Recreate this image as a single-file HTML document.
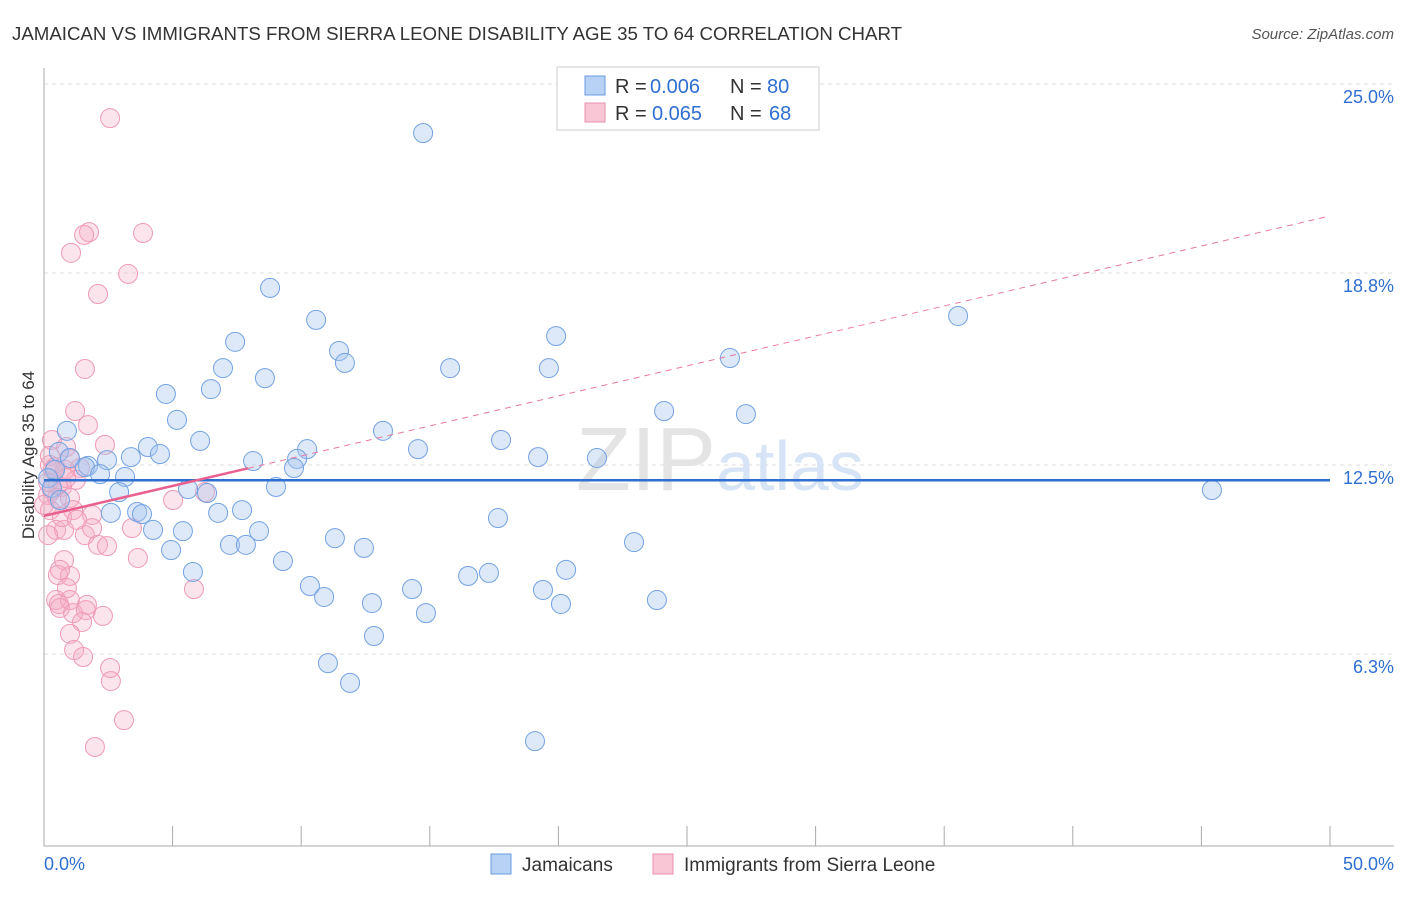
<!DOCTYPE html>
<html><head><meta charset="utf-8"><style>
body{margin:0;background:#fff;font-family:"Liberation Sans",sans-serif}
svg text{font-family:"Liberation Sans",sans-serif}
</style></head><body>
<svg width="1406" height="892">
<text x="12" y="40" font-size="18" fill="#333" textLength="890" lengthAdjust="spacingAndGlyphs">JAMAICAN VS IMMIGRANTS FROM SIERRA LEONE DISABILITY AGE 35 TO 64 CORRELATION CHART</text>
<text x="1394" y="39" font-size="15" fill="#555" font-style="italic" text-anchor="end">Source: ZipAtlas.com</text>
<g id="grid"></g>
<text x="720" y="490" font-size="90" fill="#e4e4e4" text-anchor="middle" font-family="Liberation Serif">ZIP<tspan fill="#d6e4f5" font-family="Liberation Sans" font-size="70">atlas</tspan></text>
<g id="axes"></g>
<g id="pts"></g>
<g id="lines"></g>
<text x="34" y="455" font-size="17" fill="#333" text-anchor="middle" transform="rotate(-90 34 455)">Disability Age 35 to 64</text>
<g>
<rect x="557" y="67" width="262" height="63" fill="#fff" stroke="#ccc"/>
<rect x="585" y="76" width="20" height="19" fill="#b7d2f5" stroke="#6a9be0"/>
<rect x="585" y="103" width="20" height="19" fill="#f9c6d6" stroke="#e890ae"/>
<g font-size="20" fill="#333">
<text x="615" y="93">R =</text><text x="650" y="93" fill="#2f6fd0">0.006</text><text x="730" y="93">N =</text><text x="767" y="93" fill="#2f6fd0">80</text></g>
<g font-size="20" fill="#333">
<text x="615" y="120">R =</text><text x="652" y="120" fill="#2f6fd0">0.065</text><text x="730" y="120">N =</text><text x="769" y="120" fill="#2f6fd0">68</text></g>
</g>
<g>
<rect x="491" y="854" width="20" height="20" fill="#b7d2f5" stroke="#6a9be0"/>
<text x="522" y="871" font-size="19" fill="#333">Jamaicans</text>
<rect x="653" y="854" width="20" height="20" fill="#f9c6d6" stroke="#e890ae"/>
<text x="684" y="871" font-size="19" fill="#333">Immigrants from Sierra Leone</text>
</g>
</svg>
<script>
const yTicks=[25.0,18.8,12.5,6.3];
const yTickLabels=["25.0%","18.8%","12.5%","6.3%"];
const xTickLabels=["0.0%","50.0%"];
const blueX=[14.74,8.79,10.58,35.54,19.91,7.43,11.47,11.70,6.96,15.79,19.63,26.67,8.59,4.74,6.49,24.11,27.29,5.17,13.18,17.77,0.89,6.07,4.04,10.23,14.54,4.51,3.38,9.84,8.13,19.21,21.50,9.72,1.71,2.45,1.59,2.18,3.15,0.58,0.43,9.02,2.92,5.60,6.34,45.41,7.70,6.77,2.60,3.62,3.81,17.65,4.24,5.40,8.36,11.31,22.94,7.23,7.85,4.94,12.44,9.29,5.79,20.30,16.49,17.30,10.34,14.31,19.40,10.89,12.75,20.10,23.83,14.85,12.83,11.04,11.90,19.09,0.16,0.31,0.62,1.01];
const blueY=[23.39,18.31,17.26,17.39,16.73,16.54,16.24,15.85,15.68,15.68,15.68,16.01,15.35,14.83,14.99,14.27,14.17,13.98,13.62,13.32,13.62,13.29,13.09,13.02,13.02,12.86,12.76,12.70,12.63,12.76,12.73,12.40,12.47,12.66,12.43,12.20,12.11,12.93,12.34,11.78,11.61,11.71,11.58,11.68,11.02,10.93,10.93,10.96,10.89,10.76,10.37,10.33,10.33,10.10,9.97,9.88,9.88,9.71,9.78,9.35,8.99,9.06,8.86,8.96,8.53,8.43,8.40,8.17,7.97,7.94,8.07,7.64,6.89,6.00,5.35,3.44,12.07,11.75,11.35,12.73];
const pinkX=[2.57,1.75,3.85,1.56,1.05,3.27,2.10,1.59,1.21,1.71,2.37,0.31,0.86,1.01,1.40,1.24,0.70,0.31,0.16,0.51,1.01,0.54,0.16,0.23,1.13,1.87,3.42,0.47,0.78,1.59,2.10,2.45,3.65,0.78,0.54,1.01,0.89,0.47,0.58,1.01,0.62,1.67,1.13,1.63,2.29,1.48,1.01,1.17,1.52,2.57,2.60,3.11,1.98,5.83,5.02,6.26,0.23,0.43,0.00,0.35,0.82,0.70,0.16,0.23,1.28,0.86,1.87,0.62];
const pinkY=[23.88,20.14,20.11,20.05,19.46,18.77,18.11,15.65,14.27,13.81,13.16,13.32,13.09,12.70,12.40,12.01,11.78,11.68,11.52,11.42,11.42,11.84,11.94,11.02,11.02,10.86,10.43,10.37,10.37,10.20,9.88,9.84,9.45,9.38,8.89,8.86,8.46,8.07,7.94,8.07,7.81,7.91,7.64,7.74,7.55,7.35,6.96,6.43,6.20,5.84,5.41,4.13,3.25,8.43,11.35,11.61,12.80,12.43,11.19,12.34,12.34,10.79,10.20,12.50,10.70,12.07,10.43,9.06];
const blueFit=[12.0,12.0];
const pinkFit=[10.83,20.67];
const pinkSolidEnd=7.93;
const NS="http://www.w3.org/2000/svg";
const sx=v=>44+v/50*1286;
const sy=v=>846-v*30.48;
function mk(tag,attrs,parent){const e=document.createElementNS(NS,tag);for(const k in attrs)e.setAttribute(k,attrs[k]);parent.appendChild(e);return e;}
const grid=document.getElementById('grid'),axes=document.getElementById('axes'),pts=document.getElementById('pts'),lines=document.getElementById('lines');
yTicks.forEach((t,i)=>{
 const l=mk('line',{x1:44,x2:1394,y1:sy(t),y2:sy(t),stroke:'#ddd','stroke-dasharray':'4,4'},grid);
 
 
 const tx=mk('text',{x:1394,y:sy(t)+19,'font-size':18,fill:'#2f6fd0','text-anchor':'end'},axes);
 tx.textContent=yTickLabels[i];
 
 
});
const ax=mk('path',{d:'M44 68 V846 H1394',fill:'none',stroke:'#aaa'},axes);


for(let i=0;i<=10;i++){
 const tk=mk('line',{x1:sx(i*5),x2:sx(i*5),y1:826,y2:846,stroke:'#aaa'},axes);
 
 
}
[[0,'start',44],[50,'end',1394]].forEach((p,i)=>{
 const tx=mk('text',{x:p[2],y:870,'font-size':18,fill:'#2f6fd0','text-anchor':p[1]},axes);
 tx.textContent=xTickLabels[i];
 
 
});
pinkX.forEach((x,i)=>{
 const c=mk('circle',{cx:sx(x),cy:sy(pinkY[i]),r:9.5,fill:'rgba(245,170,195,0.32)',stroke:'#ee9ab6','stroke-width':1},pts);
 
 
});
blueX.forEach((x,i)=>{
 const c=mk('circle',{cx:sx(x),cy:sy(blueY[i]),r:9.5,fill:'rgba(165,198,240,0.38)',stroke:'#74a2e2','stroke-width':1},pts);
 
 
});
const bl=mk('line',{x1:sx(0),x2:sx(50),y1:sy(blueFit[0]),y2:sy(blueFit[1]),stroke:'#2f6fd0','stroke-width':2.5},lines);


const pAt=x=>pinkFit[0]+(pinkFit[1]-pinkFit[0])*x/50;
const pd=mk('line',{x1:sx(pinkSolidEnd),x2:sx(50),y1:sy(pAt(pinkSolidEnd)),y2:sy(pAt(50)),stroke:'#e87aa0','stroke-width':1,'stroke-dasharray':'6,5'},lines);


const ps=mk('line',{x1:sx(0),x2:sx(pinkSolidEnd),y1:sy(pAt(0)),y2:sy(pAt(pinkSolidEnd)),stroke:'#e8608f','stroke-width':2.5},lines);


</script>
</body></html>
